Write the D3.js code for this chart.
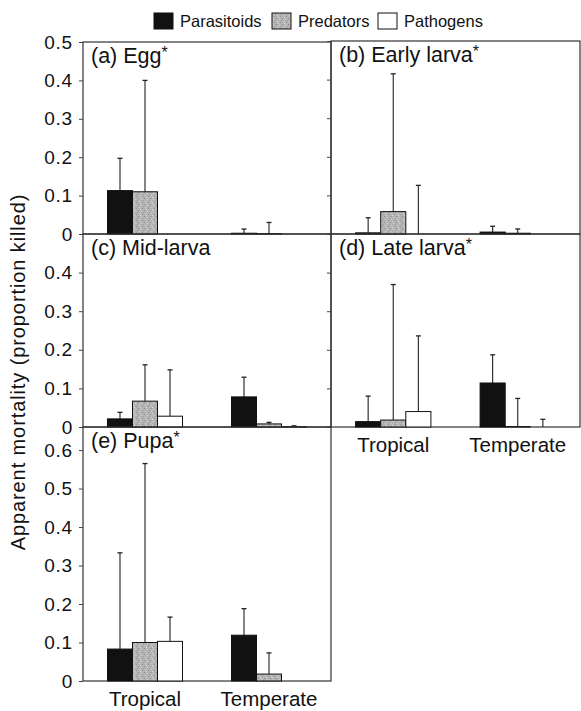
<!DOCTYPE html>
<html>
<head>
<meta charset="utf-8">
<script src="https://cdn.jsdelivr.net/npm/d3@7/dist/d3.min.js"></script>
<style>
  html, body { margin: 0; padding: 0; background: #fff; }
  svg { display: block; font-family: "Liberation Sans", Arial, Helvetica, sans-serif; }
</style>
</head>
<body>
<svg id="chart" width="581" height="711"></svg>
<script>
// ---------- data ----------
const categories = ["Tropical", "Temperate"];
const series = ["Parasitoids", "Predators", "Pathogens"];
const panelTitles = ["(a) Egg", "(b) Early larva", "(c) Mid-larva", "(d) Late larva", "(e) Pupa"];
const panelStars = [true, true, false, true, true];

// mean values per panel: [Tropical, Temperate]
const parasitoidMean = [[0.113, 0.002], [0.003, 0.005], [0.021, 0.078], [0.014, 0.114], [0.083, 0.119]];
const predatorMean   = [[0.110, 0.001], [0.058, 0.002], [0.067, 0.008], [0.018, 0.001], [0.100, 0.018]];
const pathogenMean   = [[0.000, 0.000], [0.000, 0.000], [0.028, 0.001], [0.040, 0.000], [0.103, 0.000]];

// upper end of error bars (null = none)
const parasitoidErr = [[0.197, 0.013], [0.042, 0.020], [0.038, 0.129], [0.080, 0.187], [0.333, 0.188]];
const predatorErr   = [[0.400, 0.030], [0.415, 0.013], [0.161, 0.012], [0.369, 0.074], [0.565, 0.073]];
const pathogenErr   = [[null, null], [0.126, null], [0.148, 0.003], [0.236, 0.020], [0.166, null]];

const yMaxTop = 0.5;
const yMaxPupa = 0.66;
const ticksTop = [0, 0.1, 0.2, 0.3, 0.4, 0.5];
const ticksMid = [0, 0.1, 0.2, 0.3, 0.4];
const ticksPupa = [0, 0.1, 0.2, 0.3, 0.4, 0.5, 0.6];

// ---------- layout ----------
const svg = d3.select("#chart");
const means = [parasitoidMean, predatorMean, pathogenMean];
const errs = [parasitoidErr, predatorErr, pathogenErr];

const colL = [83, 331], colR = [331, 580];
const panels = [
  { x: colL, y: [42, 234], max: yMaxTop, ticks: ticksTop, labels: true },
  { x: colR, y: [41, 234], max: yMaxTop, ticks: ticksTop, labels: false },
  { x: colL, y: [234, 427], max: yMaxTop, ticks: ticksMid, labels: true },
  { x: colR, y: [234, 427], max: yMaxTop, ticks: ticksMid, labels: false, xlab: true },
  { x: colL, y: [427, 681], max: yMaxPupa, ticks: ticksPupa, labels: true, xlab: true }
];

// predator pattern
const defs = svg.append("defs");
const pat = defs.append("pattern").attr("id", "speckle").attr("patternUnits", "userSpaceOnUse")
  .attr("width", 6).attr("height", 6);
pat.append("rect").attr("width", 6).attr("height", 6).attr("fill", "#b4b4b4");
[[0,0,"#8c8c8c"],[3,1,"#d6d6d6"],[1,3,"#d0d0d0"],[4,4,"#909090"],[2,5,"#e0e0e0"],[5,2,"#9a9a9a"]]
  .forEach(([px, py, c]) => pat.append("rect").attr("x", px).attr("y", py).attr("width", 1).attr("height", 1).attr("fill", c));
const fills = ["#111", "url(#speckle)", "#fff"];

panels.forEach((p, i) => {
  const g = svg.append("g");
  const x = d3.scaleBand().domain(categories).range(p.x).paddingInner(0.395).paddingOuter(0.1975);
  const xs = d3.scaleBand().domain(series).range([0, x.bandwidth()]);
  const y = d3.scaleLinear().domain([0, p.max]).range([p.y[1], p.y[0]]);

  // frame
  g.append("rect").attr("x", p.x[0]).attr("y", p.y[0])
    .attr("width", p.x[1] - p.x[0]).attr("height", p.y[1] - p.y[0])
    .attr("fill", "none").attr("stroke", "#333").attr("stroke-width", 1.2);

  // y axis ticks
  const ax = g.append("g").attr("transform", `translate(${p.x[0]},0)`)
    .call(d3.axisLeft(y).tickValues(p.ticks).tickSize(4).tickPadding(6)
      .tickFormat(d => d === 0 ? "0" : d3.format(".1f")(d)));
  ax.select(".domain").remove();
  ax.selectAll("line").attr("stroke", "#444");
  ax.selectAll("text").attr("font-size", 19).attr("fill", "#111")
    .attr("letter-spacing", 0.8)
    .attr("font-family", "'Liberation Sans', Arial, sans-serif")
    .style("display", p.labels ? null : "none");

  // bars
  series.forEach((s, si) => {
    categories.forEach((c, ci) => {
      const v = means[si][i][ci];
      const e = errs[si][i][ci];
      const bx = x(c) + xs(s);
      const cx = bx + xs.bandwidth() / 2;
      if (e !== null) {
        g.append("line").attr("x1", cx).attr("x2", cx).attr("y1", y(v)).attr("y2", y(e))
          .attr("stroke", "#222").attr("stroke-width", 1.1);
        g.append("line").attr("x1", cx - 2.5).attr("x2", cx + 2.5).attr("y1", y(e)).attr("y2", y(e))
          .attr("stroke", "#222").attr("stroke-width", 1.3);
      }
      if (v > 0) {
        g.append("rect").attr("x", bx).attr("y", y(v))
          .attr("width", xs.bandwidth()).attr("height", y(0) - y(v))
          .attr("fill", fills[si]).attr("stroke", "#111").attr("stroke-width", 1);
      }
    });
  });

  // panel title
  const t = g.append("text").attr("x", p.x[0] + 8).attr("y", p.y[0] + 21)
    .attr("font-size", 21.5).attr("fill", "#111").text(panelTitles[i]);
  if (panelStars[i]) t.append("tspan").attr("font-size", 16).attr("dy", -5).text("*");

  // x labels
  if (p.xlab) {
    g.selectAll(".xl").data(categories).enter().append("text")
      .attr("x", d => x(d) + x.bandwidth() / 2).attr("y", p.y[1] + 25)
      .attr("text-anchor", "middle").attr("font-size", 20.5).attr("fill", "#111").text(d => d);
  }
});

// y-axis title
svg.append("text").attr("transform", "translate(25,372) rotate(-90)")
  .attr("text-anchor", "middle").attr("font-size", 20).attr("letter-spacing", 0.9).attr("fill", "#111")
  .text("Apparent mortality (proportion killed)");

// legend
const legX = [154, 272, 378];
const leg = svg.append("g");
series.forEach((s, si) => {
  leg.append("rect").attr("x", legX[si]).attr("y", 13).attr("width", 19).attr("height", 16)
    .attr("fill", fills[si]).attr("stroke", "#111").attr("stroke-width", 1);
  leg.append("text").attr("x", legX[si] + 26).attr("y", 27).attr("font-size", 16.5)
    .attr("fill", "#111").text(s);
});
</script>
</body>
</html>
